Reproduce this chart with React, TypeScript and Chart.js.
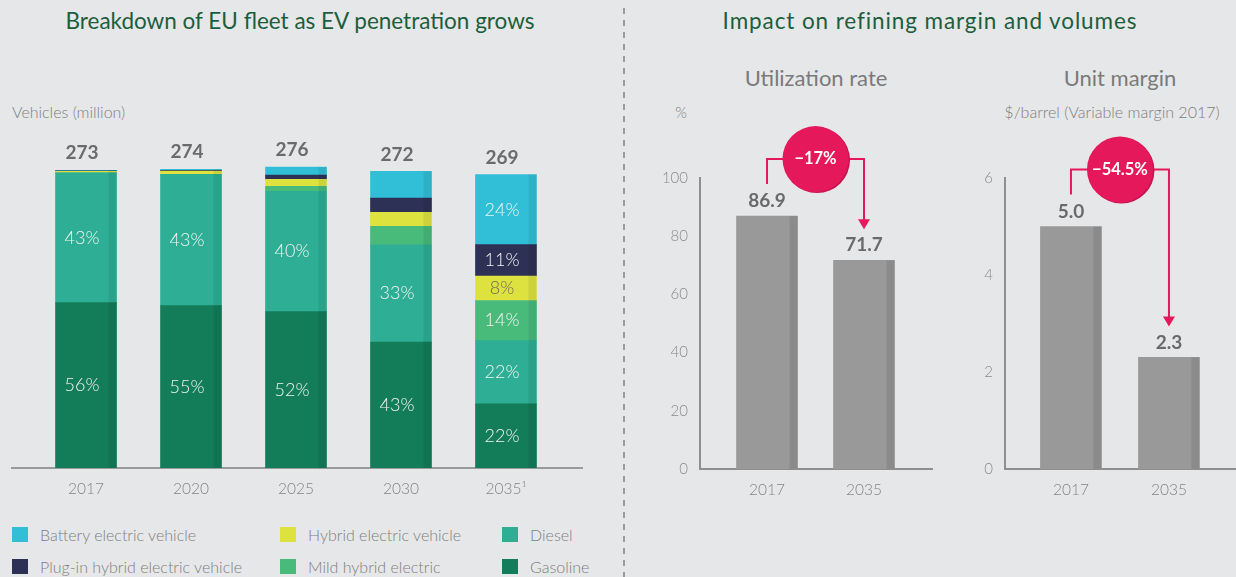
import React, { useEffect, useRef } from 'react';
import { Chart, registerables } from 'chart.js';

Chart.register(...registerables);

// ---------- Data ----------
const fleetYears = ['2017', '2020', '2025', '2030', '2035¹'];
const fleetTotals = [273, 274, 276, 272, 269];
const gasoline = [151.7, 148.9, 143.4, 115.5, 58.8];
const diesel = [119.0, 120.4, 110.3, 89.2, 58.0];
const mildHybrid = [0, 0, 4.6, 17.0, 36.8];
const hybridEV = [1.3, 3.0, 6.4, 12.9, 22.5];
const plugInHybrid = [0.5, 0.8, 3.9, 12.9, 28.7];
const batteryEV = [0.5, 0.9, 7.4, 24.5, 64.2];

const gasolinePct = [56, 55, 52, 43, 22];
const dieselPct = [43, 43, 40, 33, 22];
const mildHybridPct = [null, null, null, null, 14];
const hybridEVPct = [null, null, null, null, 8];
const plugInHybridPct = [null, null, null, null, 11];
const batteryEVPct = [null, null, null, null, 24];

const refYears = ['2017', '2035'];
const utilizationRate = [86.9, 71.7];
const utilizationChange = '\u221217%';
const utilizationTicks = [0, 20, 40, 60, 80, 100];
const unitMargin = [5.0, 2.3];
const unitMarginChange = '\u221254.5%';
const unitMarginTicks = [0, 2, 4, 6];

// ---------- Styles ----------
const FONT = 'Lato, "Open Sans", sans-serif';
const BG = '#E6E7E8';
const PINK = '#E5185B';
const C = {
  bev: '#30BFD7',
  phev: '#2E3156',
  hev: '#DDE23F',
  mild: '#48BB7B',
  diesel: '#2EAE94',
  gasoline: '#137C59',
};

Chart.defaults.font.family = FONT;

const fleetPlugin = {
  id: 'fleetLabels',
  afterDatasetsDraw(chart: any) {
    const ctx = chart.ctx;
    ctx.save();
    chart.data.datasets.forEach((ds: any, di: number) => {
      const meta = chart.getDatasetMeta(di);
      meta.data.forEach((el: any, i: number) => {
        const h = el.base - el.y;
        if (h > 0.3) {
          ctx.fillStyle = 'rgba(0,0,0,0.07)';
          ctx.fillRect(el.x + el.width / 2 - 8, el.y, 8, h);
        }
        const p = ds.pct ? ds.pct[i] : null;
        if (p != null) {
          ctx.fillStyle = ds.labelColor || '#F2F4F2';
          ctx.font = '300 18px ' + FONT;
          ctx.textAlign = 'center';
          ctx.textBaseline = 'middle';
          ctx.fillText(p + '%', el.x - 4, (el.y + el.base) / 2);
        }
      });
    });
    const xs = chart.scales.x;
    const ys = chart.scales.y;
    fleetTotals.forEach((t, i) => {
      ctx.fillStyle = '#6B6B6B';
      ctx.font = 'bold 19px ' + FONT;
      ctx.textAlign = 'center';
      ctx.textBaseline = 'middle';
      ctx.fillText(String(t), xs.getPixelForValue(i) - 4, ys.getPixelForValue(t) - 17);
    });
    ctx.restore();
  },
};

function makeRefPlugin(values: number[], changeText: string) {
  return {
    id: 'refLabels',
    afterDatasetsDraw(chart: any) {
      const ctx = chart.ctx;
      const meta = chart.getDatasetMeta(0);
      const a = meta.data[0];
      const b = meta.data[1];
      ctx.save();
      meta.data.forEach((el: any, i: number) => {
        ctx.fillStyle = 'rgba(0,0,0,0.09)';
        ctx.fillRect(el.x + el.width / 2 - 8, el.y, 8, el.base - el.y);
        ctx.fillStyle = '#6A6A6A';
        ctx.font = 'bold 19px ' + FONT;
        ctx.textAlign = 'center';
        ctx.textBaseline = 'middle';
        ctx.fillText(values[i].toFixed(1), el.x, el.y - 15);
      });
      const cx = (a.x + b.x) / 2;
      const cy = a.y - 57;
      const r = 33;
      const y0 = a.y - 32;
      const tip = b.y - 31;
      ctx.strokeStyle = PINK;
      ctx.lineWidth = 2;
      ctx.beginPath();
      ctx.moveTo(a.x, y0);
      ctx.lineTo(a.x, cy);
      ctx.lineTo(b.x, cy);
      ctx.lineTo(b.x, tip - 8);
      ctx.stroke();
      ctx.fillStyle = PINK;
      ctx.beginPath();
      ctx.moveTo(b.x - 6, tip - 10);
      ctx.lineTo(b.x + 6, tip - 10);
      ctx.lineTo(b.x, tip);
      ctx.closePath();
      ctx.fill();
      ctx.fillStyle = '#C9134F';
      ctx.beginPath();
      ctx.arc(cx + 1.5, cy + 1, r, 0, Math.PI * 2);
      ctx.fill();
      ctx.fillStyle = PINK;
      ctx.beginPath();
      ctx.arc(cx, cy, r, 0, Math.PI * 2);
      ctx.fill();
      ctx.fillStyle = '#FFFFFF';
      ctx.font = 'bold 16.5px ' + FONT;
      ctx.textAlign = 'center';
      ctx.textBaseline = 'middle';
      ctx.fillText(changeText, cx, cy);
      ctx.restore();
    },
  };
}

function useChart(ref: any, build: () => any) {
  useEffect(() => {
    const chart = new Chart(ref.current, build());
    return () => chart.destroy();
  }, []);
}

function FleetChart() {
  const ref = useRef<HTMLCanvasElement>(null);
  useChart(ref, () => {
    const mk = (label: string, values: number[], color: string, pct: any[], labelColor?: string) => ({
      label,
      data: values.map((v, i) => ({ x: i, y: v })),
      backgroundColor: color,
      borderWidth: 0,
      barThickness: 61,
      pct,
      labelColor,
    });
    return {
      type: 'bar',
      data: {
        datasets: [
          mk('Gasoline', gasoline, C.gasoline, gasolinePct),
          mk('Diesel', diesel, C.diesel, dieselPct),
          mk('Mild hybrid electric', mildHybrid, C.mild, mildHybridPct),
          mk('Hybrid electric vehicle', hybridEV, C.hev, hybridEVPct, '#6E6E52'),
          mk('Plug-in hybrid electric vehicle', plugInHybrid, C.phev, plugInHybridPct),
          mk('Battery electric vehicle', batteryEV, C.bev, batteryEVPct),
        ],
      },
      options: {
        responsive: false,
        animation: false,
        layout: { padding: { left: 12, right: 18, top: 0, bottom: 0 } },
        plugins: { legend: { display: false }, tooltip: { enabled: false } },
        scales: {
          x: {
            type: 'linear',
            stacked: true,
            offset: false,
            min: -0.705,
            max: 4.724,
            afterBuildTicks: (s: any) => {
              s.ticks = fleetYears.map((_, i) => ({ value: i }));
            },
            afterFit: (s: any) => {
              s.height = 32;
            },
            grid: { display: false, drawTicks: false, offset: false },
            border: { display: true, color: '#9A9A9A', width: 2 },
            ticks: {
              padding: 12,
              color: '#858585',
              font: { size: 15.5, weight: '300' },
              callback: (v: any) => fleetYears[v] ?? '',
            },
          },
          y: {
            stacked: true,
            display: false,
            min: 0,
            max: 310,
          },
        },
      },
      plugins: [fleetPlugin],
    };
  });
  return <canvas ref={ref} width={600} height={370} style={{ position: 'absolute', left: 0, top: 130 }} />;
}

function RefChart(props: any) {
  const ref = useRef<HTMLCanvasElement>(null);
  const { values, change, ticks, max, xmin, xmax, yAxisWidth, padRight, left, width } = props;
  useChart(ref, () => ({
    type: 'bar',
    data: {
      datasets: [
        {
          data: values.map((v: number, i: number) => ({ x: i, y: v })),
          backgroundColor: '#999999',
          borderWidth: 0,
          barThickness: 61,
        },
      ],
    },
    options: {
      responsive: false,
      animation: false,
      layout: { padding: { left: 0, right: padRight, top: 78, bottom: 0 } },
      plugins: { legend: { display: false }, tooltip: { enabled: false } },
      scales: {
        x: {
          type: 'linear',
          offset: false,
          min: xmin,
          max: xmax,
          afterBuildTicks: (s: any) => {
            s.ticks = refYears.map((_, i) => ({ value: i }));
          },
          afterFit: (s: any) => {
            s.height = 31;
          },
          grid: { display: false, drawTicks: false, offset: false },
          border: { display: true, color: '#8F8F8F', width: 2 },
          ticks: {
            padding: 12,
            color: '#858585',
            font: { size: 15.5, weight: '300' },
            callback: (v: any) => refYears[v] ?? '',
          },
        },
        y: {
          min: 0,
          max,
          afterBuildTicks: (s: any) => {
            s.ticks = ticks.map((t: number) => ({ value: t }));
          },
          afterFit: (s: any) => {
            s.width = yAxisWidth;
          },
          grid: { display: false, drawTicks: false },
          border: { display: true, color: '#8F8F8F', width: 2 },
          ticks: { padding: 12, color: '#8A8A8A', font: { size: 15, weight: '300' } },
        },
      },
    },
    plugins: [makeRefPlugin(values, change)],
  }));
  return <canvas ref={ref} width={width} height={400} style={{ position: 'absolute', left, top: 100 }} />;
}

function Text(props: any) {
  const { x, y, children, size = 16, color = '#7E7E7E', align = 'center', weight = 400, spacing = 0 } = props;
  const tx = align === 'center' ? '-50%' : '0';
  return (
    <div
      style={{
        position: 'absolute',
        left: x,
        top: y,
        transform: `translate(${tx}, -50%)`,
        fontSize: size,
        color,
        fontWeight: weight,
        letterSpacing: spacing,
        whiteSpace: 'nowrap',
        lineHeight: 1,
        fontFamily: FONT,
      }}
    >
      {children}
    </div>
  );
}

const legendItems = [
  { label: 'Battery electric vehicle', color: C.bev, x: 12, y: 535 },
  { label: 'Plug-in hybrid electric vehicle', color: C.phev, x: 12, y: 567 },
  { label: 'Hybrid electric vehicle', color: C.hev, x: 280, y: 535 },
  { label: 'Mild hybrid electric', color: C.mild, x: 280, y: 567 },
  { label: 'Diesel', color: C.diesel, x: 502, y: 535 },
  { label: 'Gasoline', color: C.gasoline, x: 502, y: 567 },
];

export default function App() {
  useEffect(() => {
    document.body.style.margin = '0';
    document.body.style.background = BG;
  }, []);
  return (
    <div
      style={{
        position: 'absolute',
        left: 0,
        top: 0,
        width: 1236,
        height: 577,
        background: BG,
        overflow: 'hidden',
        fontFamily: FONT,
      }}
    >
      <Text x={300} y={21} size={22.5} color="#1B5E3D">
        Breakdown of EU fleet as EV penetration grows
      </Text>
      <Text x={930} y={21} size={22.5} color="#1B5E3D" spacing={0.9}>
        Impact on refining margin and volumes
      </Text>
      <Text x={12} y={112} align="left" size={16} weight={300}>
        Vehicles (million)
      </Text>
      <Text x={816} y={78} size={22} color="#7A7A7A">
        Utilization rate
      </Text>
      <Text x={681} y={112} size={15} weight={300}>
        %
      </Text>
      <Text x={1120} y={78} size={22} color="#7A7A7A">
        Unit margin
      </Text>
      <Text x={1112} y={112} size={16} weight={300}>
        $/barrel (Variable margin 2017)
      </Text>
      <div
        style={{
          position: 'absolute',
          left: 623,
          top: 8,
          width: 2,
          height: 569,
          background: 'repeating-linear-gradient(to bottom, #9A9A9A 0 6px, transparent 6px 12px)',
        }}
      />
      <FleetChart />
      <RefChart
        values={utilizationRate}
        change={utilizationChange}
        ticks={utilizationTicks}
        max={100}
        xmin={-0.691}
        xmax={1.701}
        yAxisWidth={60}
        padRight={8}
        left={640}
        width={300}
      />
      <RefChart
        values={unitMargin}
        change={unitMarginChange}
        ticks={unitMarginTicks}
        max={6}
        xmin={-0.673}
        xmax={1.684}
        yAxisWidth={65}
        padRight={0}
        left={940}
        width={296}
      />
      {legendItems.map((it) => (
        <div key={it.label}>
          <div
            style={{
              position: 'absolute',
              left: it.x,
              top: it.y - 8,
              width: 16,
              height: 15,
              background: it.color,
            }}
          />
          <Text x={it.x + 28} y={it.y} align="left" size={16} weight={300}>
            {it.label}
          </Text>
        </div>
      ))}
    </div>
  );
}
